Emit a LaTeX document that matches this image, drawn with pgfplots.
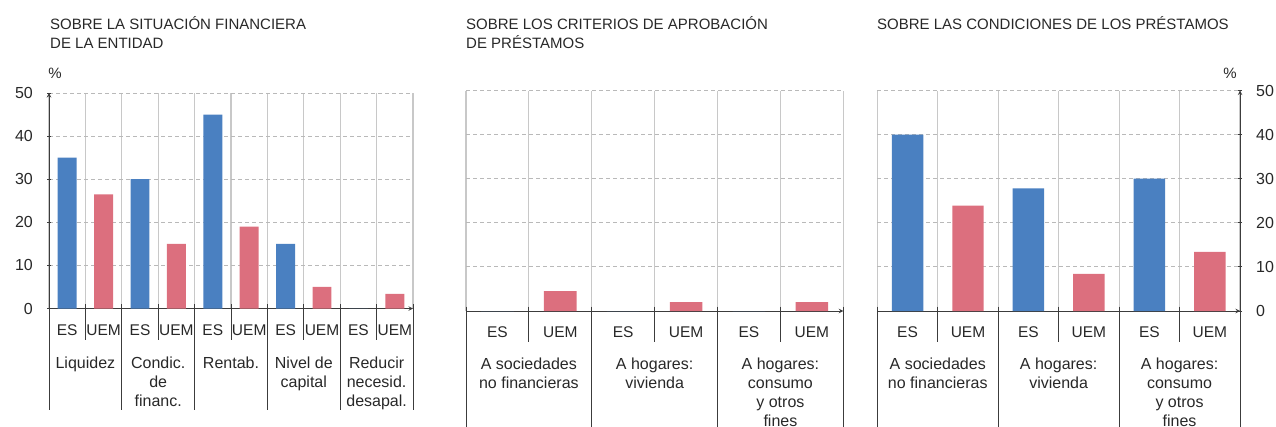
\documentclass[border=0pt]{standalone}
\usepackage{fontspec}
\setmainfont{Liberation Sans}
\usepackage{pgfplots}
\pgfplotsset{compat=1.18}
\definecolor{esblue}{RGB}{74,128,193}
\definecolor{uempink}{RGB}{220,111,126}
\definecolor{txt}{RGB}{40,40,40}
\definecolor{vgrid}{RGB}{200,200,200}
\definecolor{hgrid}{RGB}{185,185,185}
\definecolor{axc}{RGB}{60,60,60}
\tikzset{sep/.style={axc, line width=0.9pt}}
\pgfplotsset{
 panel/.style={
  scale only axis, anchor=south west,
  ymin=0, ymax=50, ytick={0,10,...,50},
  ymajorgrids, major grid style={hgrid, dash pattern=on 4pt off 3pt, line width=0.9pt},
  xminorgrids, minor grid style={vgrid, line width=1.1pt},
  xtick style={draw=none},
  minor tick length=0pt,
  major tick length=4pt, tick align=inside,
  ytick style={axc, line width=0.9pt},
  axis line style={axc, line width=1pt, -},
  axis x line=bottom,
  clip=false,
  tick label style={color=txt},
  xticklabel style={font=\fontsize{15.5}{19}\selectfont, anchor=base, inner sep=0pt, yshift=-22.5pt},
  yticklabel style={font=\fontsize{16}{19}\selectfont, inner sep=0pt},
  /pgf/number format/assume math mode=true,
  ybar,
 },
 esbar/.style={fill=esblue, draw=none, bar width=0.52, bar shift=0pt},
 uembar/.style={fill=uempink, draw=none, bar width=0.52, bar shift=0pt},
}
\begin{document}
\begin{tikzpicture}
\path[use as bounding box] (0,0) rectangle (1276pt,426pt);
% titles
\node[anchor=base west, inner sep=0pt, font=\fontsize{15}{19}\selectfont, text=txt] at (50pt,396.5pt) {SOBRE LA SITUACIÓN FINANCIERA};
\node[anchor=base west, inner sep=0pt, font=\fontsize{15}{19}\selectfont, text=txt] at (50pt,377.7pt) {DE LA ENTIDAD};
\node[anchor=base west, inner sep=0pt, font=\fontsize{15}{19}\selectfont, text=txt] at (466pt,396.5pt) {SOBRE LOS CRITERIOS DE APROBACIÓN};
\node[anchor=base west, inner sep=0pt, font=\fontsize{15}{19}\selectfont, text=txt] at (466pt,377.7pt) {DE PRÉSTAMOS};
\node[anchor=base west, inner sep=0pt, font=\fontsize{15}{19}\selectfont, text=txt] at (877pt,396.5pt) {SOBRE LAS CONDICIONES DE LOS PRÉSTAMOS};
\node[font=\fontsize{15}{19}\selectfont, text=txt] at (55pt,353pt) {\%};
\node[font=\fontsize{15}{19}\selectfont, text=txt] at (1230pt,353pt) {\%};

% Panel 1
\begin{axis}[panel, at={(49pt,117.5pt)}, width=364pt, height=215.5pt,
 xmin=-0.5, xmax=9.5, axis y line=left,
 xtick={0,...,9}, xticklabels={ES,UEM,ES,UEM,ES,UEM,ES,UEM,ES,UEM},
 minor xtick={-0.5,0.5,...,9.5},
 extra x ticks={0.5,2.5,4.5,6.5,8.5},
 extra x tick labels={Liquidez,{Condic.\\de\\financ.},Rentab.,{Nivel de\\capital},{Reducir\\necesid.\\desapal.}},
 extra x tick style={grid=none, major tick length=0pt, xticklabel style={font=\fontsize{16}{19}\selectfont, anchor=north, align=center, yshift=-25.5pt}},
 yticklabel style={anchor=east, xshift=-14pt},
]
\addplot[esbar] coordinates {(0,35) (2,30) (4,45) (6,15) (8,0)};
\addplot[uembar] coordinates {(1,26.5) (3,15) (5,19) (7,5) (9,3.4)};
\pgfplotsinvokeforeach{0.5,2.5,4.5,6.5,8.5}{\draw[sep] ([yshift=4.5pt]axis cs:#1,0) -- ([yshift=-31.5pt]axis cs:#1,0);}
\pgfplotsinvokeforeach{-0.5,1.5,3.5,5.5,7.5,9.5}{\draw[sep] ([yshift=4.5pt]axis cs:#1,0) -- ([yshift=-101.5pt]axis cs:#1,0);}
\end{axis}

% Panel 2
\begin{axis}[panel, at={(466pt,115pt)}, width=377.3pt, height=220.5pt,
 xmin=-0.5, xmax=5.5, axis y line=left, y axis line style={draw=none}, ytick style={draw=none}, yticklabels={},
 xtick={0,...,5}, xticklabels={ES,UEM,ES,UEM,ES,UEM},
 minor xtick={-0.5,0.5,...,5.5},
 extra x ticks={0.5,2.5,4.5},
 extra x tick labels={{A sociedades\\no financieras},{A hogares:\\vivienda},{A hogares:\\consumo\\y otros\\fines}},
 extra x tick style={grid=none, major tick length=0pt, xticklabel style={font=\fontsize{16}{19}\selectfont, anchor=north, align=center, yshift=-24pt}},
]
\addplot[esbar] coordinates {(0,0) (2,0) (4,0)};
\addplot[uembar] coordinates {(1,4.5) (3,2.0) (5,2.0)};
\pgfplotsinvokeforeach{0.5,2.5,4.5}{\draw[sep] ([yshift=4.5pt]axis cs:#1,0) -- ([yshift=-31pt]axis cs:#1,0);}
\pgfplotsinvokeforeach{-0.5,1.5,3.5,5.5}{\draw[sep] ([yshift=4.5pt]axis cs:#1,0) -- ([yshift=-125pt]axis cs:#1,0);}
\end{axis}

% Panel 3
\begin{axis}[panel, at={(877.3pt,115pt)}, width=362.7pt, height=220.5pt,
 xmin=-0.5, xmax=5.5, axis y line=right,
 xtick={0,...,5}, xticklabels={ES,UEM,ES,UEM,ES,UEM},
 minor xtick={-0.5,0.5,...,5.5},
 extra x ticks={0.5,2.5,4.5},
 extra x tick labels={{A sociedades\\no financieras},{A hogares:\\vivienda},{A hogares:\\consumo\\y otros\\fines}},
 extra x tick style={grid=none, major tick length=0pt, xticklabel style={font=\fontsize{16}{19}\selectfont, anchor=north, align=center, yshift=-24pt}},
 yticklabel style={anchor=west, xshift=14pt},
]
\addplot[esbar] coordinates {(0,40) (2,27.8) (4,30)};
\addplot[uembar] coordinates {(1,23.9) (3,8.4) (5,13.4)};
\pgfplotsinvokeforeach{0.5,2.5,4.5}{\draw[sep] ([yshift=4.5pt]axis cs:#1,0) -- ([yshift=-31pt]axis cs:#1,0);}
\pgfplotsinvokeforeach{-0.5,1.5,3.5,5.5}{\draw[sep] ([yshift=4.5pt]axis cs:#1,0) -- ([yshift=-125pt]axis cs:#1,0);}
\end{axis}
\end{tikzpicture}
\end{document}
